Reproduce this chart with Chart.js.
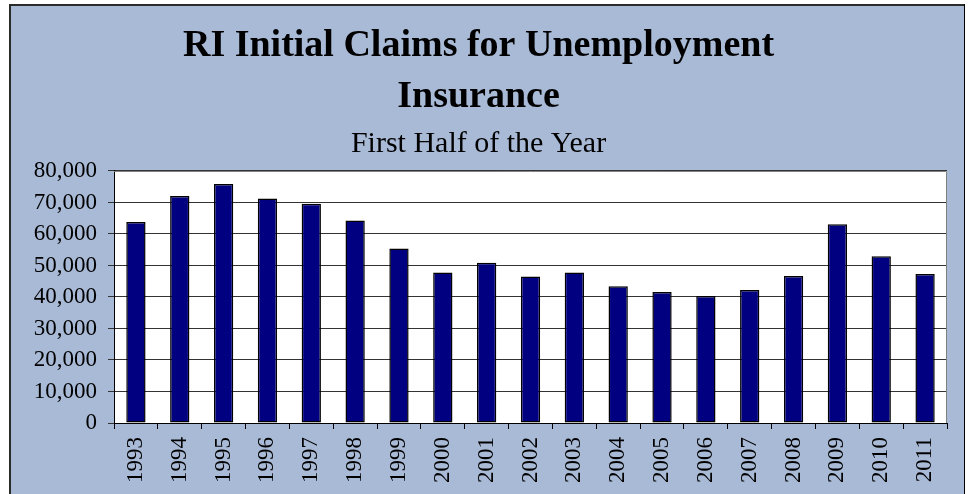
<!DOCTYPE html>
<html>
<head>
<meta charset="utf-8">
<script src="https://cdn.jsdelivr.net/npm/chart.js@4/dist/chart.umd.min.js"></script>
<style>
  html, body { margin: 0; padding: 0; background: #ffffff; }
  canvas { display: block; }
</style>
</head>
<body>
<canvas id="claimsChart" width="969" height="494"></canvas>
<script>
// Chart data
const years = ['1993', '1994', '1995', '1996', '1997', '1998', '1999', '2000', '2001', '2002',
               '2003', '2004', '2005', '2006', '2007', '2008', '2009', '2010', '2011'];
const initialClaims = [63800, 72100, 75900, 71300, 69600, 64300, 55400, 47800, 50900, 46500,
                       47800, 43400, 41600, 40300, 42200, 46700, 63100, 52900, 47300];
const titleLines = ['RI Initial Claims for Unemployment', 'Insurance'];
const subtitleText = 'First Half of the Year';
const yMin = 0;
const yMax = 80000;
const yStep = 10000;

const SERIF = "'Times New Roman', 'Liberation Serif', serif";
const PANEL_BLUE = '#a9bad6';

// Panel frame + white plot area behind the bars
const backdrop = {
    id: 'backdrop',
    beforeDraw(chart) {
        const ctx = chart.ctx;
        const a = chart.chartArea;
        ctx.save();
        ctx.fillStyle = PANEL_BLUE;
        ctx.fillRect(10, 5, 954, 494);
        ctx.strokeStyle = '#2b2b2b';
        ctx.lineWidth = 2;
        ctx.beginPath();
        ctx.moveTo(10, 500);
        ctx.lineTo(10, 5);
        ctx.lineTo(964, 5);
        ctx.stroke();
        ctx.strokeStyle = '#000000';
        ctx.lineWidth = 1;
        ctx.beginPath();
        ctx.moveTo(964.5, 4);
        ctx.lineTo(964.5, 494);
        ctx.stroke();
        ctx.fillStyle = '#ffffff';
        ctx.fillRect(a.left, a.top, a.right - a.left, a.bottom - a.top);
        ctx.restore();
    },
    afterDatasetsDraw(chart) {
        const ctx = chart.ctx;
        const a = chart.chartArea;
        ctx.save();
        ctx.strokeStyle = '#808080';
        ctx.lineWidth = 1;
        ctx.beginPath();
        ctx.moveTo(a.left, a.top + 0.5);
        ctx.lineTo(a.right - 0.5, a.top + 0.5);
        ctx.lineTo(a.right - 0.5, a.bottom);
        ctx.stroke();
        ctx.restore();
    }
};

new Chart(document.getElementById('claimsChart').getContext('2d'), {
    type: 'bar',
    data: {
        labels: years,
        datasets: [{
            label: 'Initial Claims',
            data: initialClaims,
            backgroundColor: '#000080',
            borderColor: '#000000',
            borderWidth: 1.5,
            borderSkipped: false,
            barPercentage: 0.44,
            categoryPercentage: 1.0
        }]
    },
    options: {
        responsive: false,
        animation: false,
        devicePixelRatio: 1,
        layout: {
            padding: { left: 10, right: 22, top: 0, bottom: 0 }
        },
        plugins: {
            legend: { display: false },
            tooltip: { enabled: false },
            title: {
                display: true,
                text: titleLines,
                color: '#000000',
                font: { family: SERIF, size: 38, weight: 'bold', lineHeight: 1.342 },
                padding: { top: 21, bottom: 3 }
            },
            subtitle: {
                display: true,
                text: subtitleText,
                color: '#000000',
                font: { family: SERIF, size: 30, weight: 'normal', lineHeight: 1.2 },
                padding: { top: 0, bottom: 9 }
            }
        },
        scales: {
            x: {
                grid: {
                    offset: true,
                    drawOnChartArea: false,
                    drawTicks: true,
                    tickLength: 6,
                    color: '#000000'
                },
                border: { display: true, color: '#000000', width: 1 },
                ticks: {
                    color: '#000000',
                    font: { family: SERIF, size: 23 },
                    minRotation: 90,
                    maxRotation: 90,
                    padding: 8,
                    autoSkip: false
                },
                afterFit(scale) {
                    scale.height = 71;
                }
            },
            y: {
                min: yMin,
                max: yMax,
                grid: {
                    color: '#333333',
                    lineWidth: 1,
                    drawTicks: true,
                    tickLength: 6
                },
                border: { display: true, color: '#000000', width: 1 },
                ticks: {
                    stepSize: yStep,
                    color: '#000000',
                    font: { family: SERIF, size: 23 },
                    padding: 11,
                    callback: value => value.toLocaleString('en-US')
                },
                afterFit(scale) {
                    scale.width = 104;
                }
            }
        }
    },
    plugins: [backdrop]
});
</script>
</body>
</html>
